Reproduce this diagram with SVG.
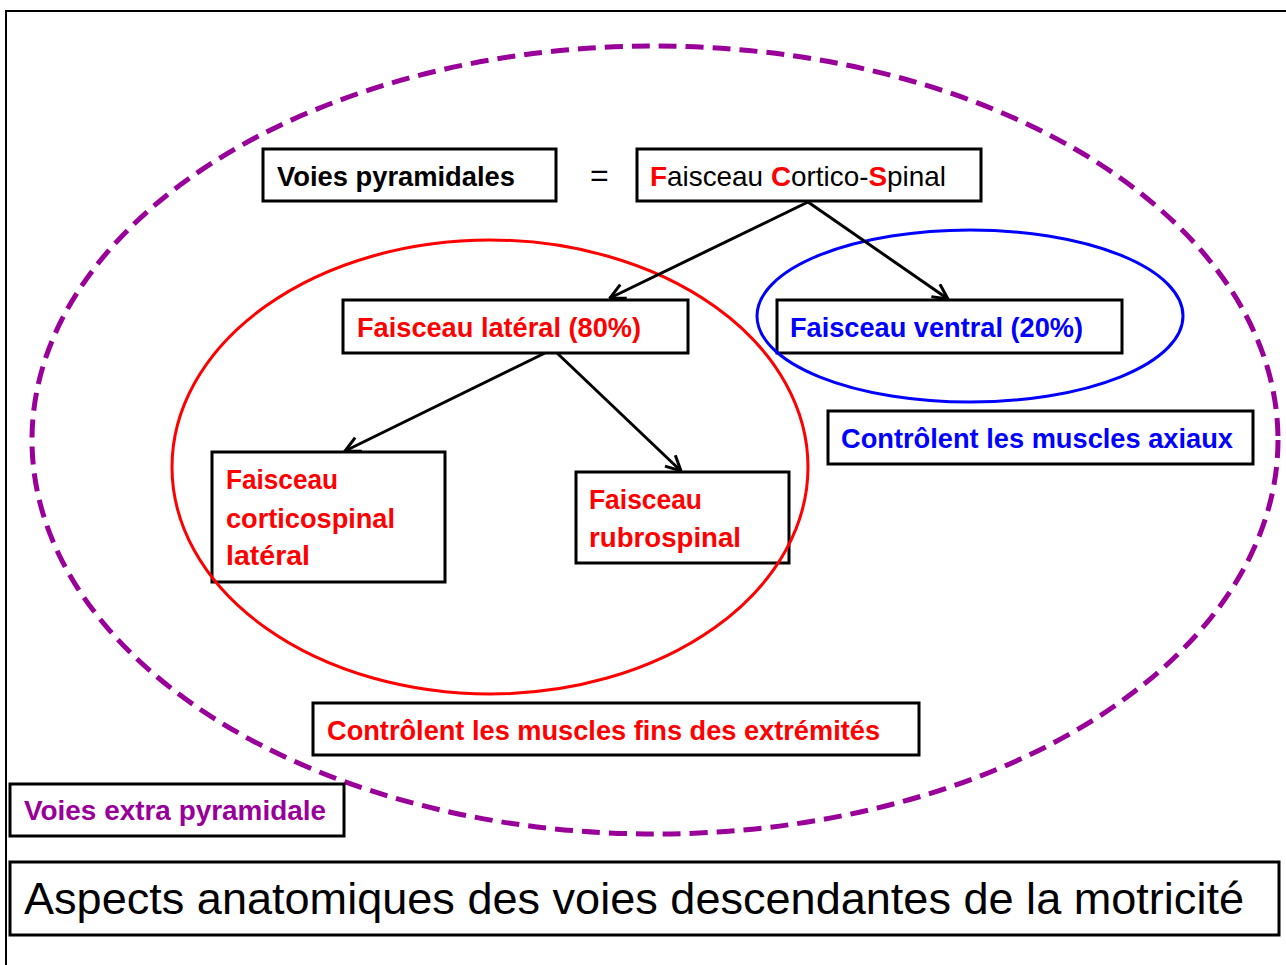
<svg xmlns="http://www.w3.org/2000/svg" width="1286" height="965" viewBox="0 0 1286 965">
<style>
.box{fill:#fff;stroke:#000;stroke-width:3}
.t{font-family:"Liberation Sans Narrow","Liberation Sans",Arial,sans-serif;font-size:28px;font-weight:bold}
.r{fill:#ff0000}
.b{fill:#0000ff}
.p{fill:#990099}
.k{fill:#000}
.reg{font-family:"Liberation Sans Narrow","Liberation Sans",Arial,sans-serif;font-weight:normal}
.conn{stroke:#000;stroke-width:3;fill:none}
</style>
<defs>
<marker id="arr" viewBox="0 0 12 12" refX="11" refY="6" markerWidth="6" markerHeight="6" orient="auto" markerUnits="strokeWidth">
<path d="M1,1 L11,6 L1,11" fill="none" stroke="#000" stroke-width="2"/>
</marker>
</defs>
<rect x="0" y="0" width="1286" height="965" fill="#fff"/>
<rect x="6" y="11" width="1290" height="1000" fill="none" stroke="#000" stroke-width="2"/>
<g id="outer-ellipse">
<ellipse cx="655" cy="440" rx="623" ry="394" fill="none" stroke="#990099" stroke-width="5" stroke-dasharray="18 9"/>
</g>
<g id="n-voies-pyr">
<rect class="box" x="263" y="149" width="293" height="52"/>
<text class="t k" x="277" y="186" textLength="238" lengthAdjust="spacingAndGlyphs">Voies pyramidales</text>
</g>
<g id="equals">
<text class="reg k" x="590" y="186" font-size="32">=</text>
</g>
<g id="n-fcs">
<rect class="box" x="637" y="149" width="344" height="52"/>
<text class="reg k" x="650" y="186" font-size="28" textLength="296" lengthAdjust="spacingAndGlyphs"><tspan fill="#ff0000" font-weight="bold">F</tspan>aisceau <tspan fill="#ff0000" font-weight="bold">C</tspan>ortico-<tspan fill="#ff0000" font-weight="bold">S</tspan>pinal</text>
</g>
<g id="n-lateral">
<rect class="box" x="343" y="300" width="345" height="53"/>
<text class="t r" x="357" y="337" textLength="284" lengthAdjust="spacingAndGlyphs">Faisceau latéral (80%)</text>
</g>
<g id="n-ventral">
<rect class="box" x="777" y="300" width="345" height="53"/>
<text class="t b" x="790" y="337" textLength="293" lengthAdjust="spacingAndGlyphs">Faisceau ventral (20%)</text>
</g>
<g id="n-axiaux">
<rect class="box" x="828" y="411" width="425" height="53"/>
<text class="t b" x="841" y="448" textLength="392" lengthAdjust="spacingAndGlyphs">Contrôlent les muscles axiaux</text>
</g>
<g id="n-csl">
<rect class="box" x="212" y="452" width="233" height="130"/>
<text class="t r" x="226" y="489" textLength="112" lengthAdjust="spacingAndGlyphs">Faisceau</text>
<text class="t r" x="226" y="528" textLength="169" lengthAdjust="spacingAndGlyphs">corticospinal</text>
<text class="t r" x="226" y="565" textLength="84" lengthAdjust="spacingAndGlyphs">latéral</text>
</g>
<g id="n-rubro">
<rect class="box" x="576" y="472" width="213" height="91"/>
<text class="t r" x="589" y="509" textLength="113" lengthAdjust="spacingAndGlyphs">Faisceau</text>
<text class="t r" x="589" y="547" textLength="152" lengthAdjust="spacingAndGlyphs">rubrospinal</text>
</g>
<g id="n-fins">
<rect class="box" x="313" y="703" width="606" height="52"/>
<text class="t r" x="327" y="740" textLength="553" lengthAdjust="spacingAndGlyphs">Contrôlent les muscles fins des extrémités</text>
</g>
<g id="n-extra">
<rect class="box" x="10" y="784" width="334" height="52"/>
<text class="t p" x="24" y="820" textLength="302" lengthAdjust="spacingAndGlyphs">Voies extra pyramidale</text>
</g>
<g id="n-title">
<rect class="box" x="10" y="862" width="1269" height="73"/>
<text class="reg k" x="24" y="914" font-size="44" textLength="1220" lengthAdjust="spacingAndGlyphs">Aspects anatomiques des voies descendantes de la motricité</text>
</g>
<g id="group-ellipses">
<ellipse cx="490" cy="467" rx="318" ry="227" fill="none" stroke="#ff0000" stroke-width="3"/>
<ellipse cx="970" cy="316" rx="213" ry="86" fill="none" stroke="#0000ff" stroke-width="3"/>
</g>
<g id="connectors">
<line class="conn" x1="808" y1="202" x2="610" y2="298" marker-end="url(#arr)"/>
<line class="conn" x1="808" y1="202" x2="948" y2="299" marker-end="url(#arr)"/>
<line class="conn" x1="545" y1="353" x2="345" y2="451" marker-end="url(#arr)"/>
<line class="conn" x1="557" y1="353" x2="681" y2="471" marker-end="url(#arr)"/>
</g>
</svg>
